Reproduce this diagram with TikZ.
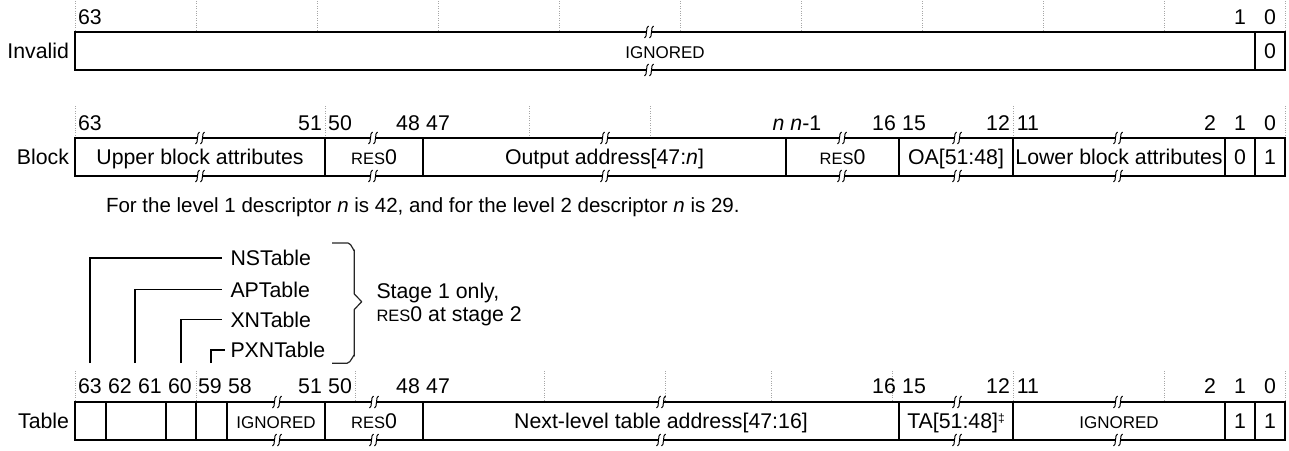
\documentclass[tikz,border=0pt]{standalone}
\usepackage{fontspec}
\setmainfont{Liberation Sans}
\newcommand{\myres}{{\fontsize{16.5}{20}\selectfont RES}0}
\newcommand{\myign}{{\fontsize{17}{20}\selectfont IGNORED}}
\begin{document}
\begin{tikzpicture}[x=1pt,y=-1pt,
  every node/.style={font=\fontsize{21.3}{25}\selectfont, inner sep=0pt, outer sep=0pt},
  field/.style={draw, line width=2pt, minimum height=38pt, text height=15.2pt, text depth=0pt},
  bitlab/.style={anchor=base},
  rowlab/.style={anchor=base east},
  gridln/.style={draw=gray!70, line width=0.9pt, dash pattern=on 1pt off 1.4pt},
  conn/.style={draw, line width=1.1pt},
  flaglab/.style={anchor=west, text height=15.2pt, text depth=0pt},
  brkmark/.pic={
    \fill[white] (-2.6,-2.2) rectangle (2.6,2.2);
    \draw[line width=1pt] (-4.5,6) .. controls (-1.5,6) and (-3.5,-6) .. (-0.5,-6);
    \draw[line width=1pt] (0.5,6) .. controls (3.5,6) and (1.5,-6) .. (4.5,-6);
  }
]
\useasboundingbox (0,0) rectangle (1289,450);

% ---------- grid lines ----------
\foreach \x in {75,196,317,438,559,680,801,922,1043,1164,1285}
  \draw[gridln] (\x,1) -- (\x,30);
\foreach \x in {75,325,529,650,1013,1285}
  \draw[gridln] (\x,106) -- (\x,136);
\foreach \x in {75,196,355,544,665,771,892,1013,1164,1285}
  \draw[gridln] (\x,371) -- (\x,400);

% ---------- Invalid ----------
\node[rowlab] (linv) at (69,58.6) {Invalid};
\node[field, minimum width=1180pt] (inv1) at (665,51) {};
\node[field, minimum width=30pt] (inv0) at (1270,51) {0};
\node[bitlab] (i63) at (90,24.5) {63};
\node[bitlab] (i1) at (1240,24.5) {1};
\node[bitlab] (i0) at (1270,24.5) {0};
\pic at (649,32) {brkmark};
\pic at (649,70) {brkmark};
\node[text height=15.2pt, text depth=0pt] (inv1t) at (665,51) {\myign};

% ---------- Block ----------
\node[rowlab] (lblk) at (69,164.6) {Block};
\node[field, minimum width=250pt] (b1) at (200,157) {};
\node[field, minimum width=98pt] (b2) at (374,157) {};
\node[field, minimum width=363pt] (b3) at (604.5,157) {};
\node[field, minimum width=113pt] (b4) at (842.5,157) {};
\node[field, minimum width=114pt] (b5) at (956,157) {};
\node[field, minimum width=212pt] (b6) at (1119,157) {};
\node[field, minimum width=30pt] (b7) at (1240,157) {0};
\node[field, minimum width=30pt] (b8) at (1270,157) {1};
\foreach \x in {200,373,605,842,957,1118} {
  \pic at (\x,138) {brkmark};
  \pic at (\x,176) {brkmark};
}
\node[text height=15.2pt, text depth=0pt] (b1t) at (200,157) {Upper block attributes};
\node[text height=15.2pt, text depth=0pt] (b2t) at (374,157) {\myres};
\node[text height=15.2pt, text depth=0pt] (b3t) at (604.5,157) {Output address[47:\textit{n}]};
\node[text height=15.2pt, text depth=0pt] (b4t) at (842.5,157) {\myres};
\node[text height=15.2pt, text depth=0pt] (b5t) at (956,157) {OA[51:48]};
\node[text height=15.2pt, text depth=0pt] (b6t) at (1119,157) {Lower block attributes};
\node[bitlab] (k63) at (90,130.5) {63};
\node[bitlab] (k51) at (310,130.5) {51};
\node[bitlab] (k50) at (340,130.5) {50};
\node[bitlab] (k48) at (408,130.5) {48};
\node[bitlab] (k47) at (438,130.5) {47};
\node[bitlab] (kn) at (797,130.5) {\textit{n} \textit{n}-1};
\node[bitlab] (k16) at (884,130.5) {16};
\node[bitlab] (k15) at (914,130.5) {15};
\node[bitlab] (k12) at (998,130.5) {12};
\node[bitlab] (k11) at (1028,130.5) {11};
\node[bitlab] (k2) at (1210,130.5) {2};
\node[bitlab] (k1) at (1240,130.5) {1};
\node[bitlab] (k0) at (1270,130.5) {0};

\node[anchor=base west, font=\fontsize{20.5}{24}\selectfont] (note) at (106,212) {For the level 1 descriptor \textit{n} is 42, and for the level 2 descriptor \textit{n} is 29.};

% ---------- Table flags ----------
\node[flaglab] (ns) at (230.5,258) {NSTable};
\node[flaglab] (ap) at (230.5,289.5) {APTable};
\node[flaglab] (xn) at (230.5,319.5) {XNTable};
\node[flaglab] (pxn) at (230.5,350) {PXNTable};
\coordinate (c63) at (90,363);
\coordinate (c62) at (135,363);
\coordinate (c60) at (181,363);
\coordinate (c59) at (211,363);
\draw[conn] (c63) |- ([xshift=-8.5pt]ns.west);
\draw[conn] (c62) |- ([xshift=-8.5pt]ap.west);
\draw[conn] (c60) |- ([xshift=-8.5pt]xn.west);
\draw[conn] (c59) |- ([xshift=-5.5pt]pxn.west);
\draw[line width=1.2pt, black!85, line join=round]
  (332,243) -- (348,243) to[out=0,in=-90] (354.3,250) -- (354.3,294)
  -- (361.7,301.7) -- (354.3,309.5) -- (354.3,356) to[out=90,in=0] (347,363.3) -- (332,363.3);
\node[anchor=base west] (st1) at (376.5,298) {Stage 1 only,};
\node[anchor=base west] (st2) at (376.5,321) {\myres{} at stage 2};

% ---------- Table ----------
\node[rowlab] (ltab) at (69,428.6) {Table};
\node[field, minimum width=31pt] (t1) at (90.5,421) {};
\node[field, minimum width=60pt] (t2) at (136,421) {};
\node[field, minimum width=30pt] (t3) at (181,421) {};
\node[field, minimum width=31pt] (t4) at (211.5,421) {};
\node[field, minimum width=98pt] (t5) at (276,421) {};
\node[field, minimum width=98pt] (t6) at (374,421) {};
\node[field, minimum width=476pt] (t7) at (661,421) {};
\node[field, minimum width=114pt] (t8) at (956,421) {};
\node[field, minimum width=212pt] (t9) at (1119,421) {};
\node[field, minimum width=30pt] (t10) at (1240,421) {1};
\node[field, minimum width=30pt] (t11) at (1270,421) {1};
\foreach \x in {277,374,661,957,1118} {
  \pic at (\x,402) {brkmark};
  \pic at (\x,440) {brkmark};
}
\node[text height=15.2pt, text depth=0pt] (t5t) at (276,421) {\myign};
\node[text height=15.2pt, text depth=0pt] (t6t) at (374,421) {\myres};
\node[text height=15.2pt, text depth=0pt] (t7t) at (661,421) {Next-level table address[47:16]};
\node[text height=15.2pt, text depth=0pt] (t8t) at (956,421) {TA[51:48]\raisebox{6.5pt}{\fontsize{12}{12}\selectfont ‡}};
\node[text height=15.2pt, text depth=0pt] (t9t) at (1119,421) {\myign};
\foreach \x/\t in {90/63,120/62,150/61,180/60,210/59,240/58,310/51,340/50,408/48,438/47,884/16,914/15,998/12,1028/11,1210/2,1240/1,1270/0}
  \node[bitlab] (tb\t) at (\x,393.5) {\t};
\end{tikzpicture}
\end{document}
